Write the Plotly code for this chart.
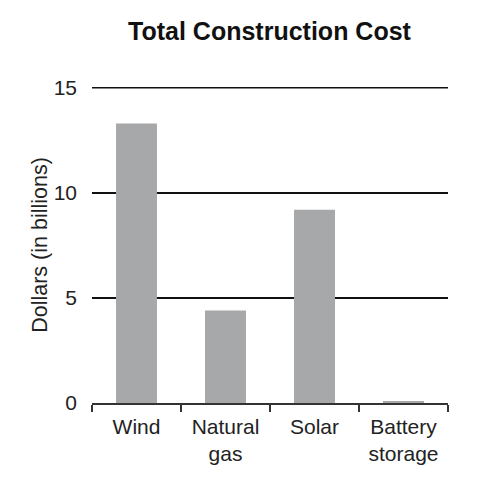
import plotly.graph_objects as go

# categories and values
sources = ["Wind", "Natural<br>gas", "Solar", "Battery<br>storage"]
cost_billions = [13.3, 4.4, 9.2, 0.1]
y_ticks = [0, 5, 10, 15]

fig = go.Figure()
fig.add_trace(go.Bar(
    x=sources,
    y=cost_billions,
    marker=dict(color="#a7a8aa", line=dict(width=0)),
    hoverinfo="x+y",
))

fig.update_layout(
    width=500,
    height=484,
    margin=dict(l=84, r=60, t=79, b=89),
    paper_bgcolor="white",
    plot_bgcolor="white",
    font=dict(family="Liberation Sans, Arial, Helvetica, sans-serif", size=21, color="#222222"),
    title=dict(
        text="<b>Total Construction Cost</b>",
        font=dict(size=25, color="#111111"),
        x=0.523,
        xanchor="center",
        y=0.952,
        yanchor="middle",
    ),
    bargap=0.54,
    showlegend=False,
)

# top gridline sits on the plot edge, plotly drops it, so draw it as a shape
fig.add_hline(y=y_ticks[-1], line=dict(color="#111111", width=1.5), layer="below")

fig.update_xaxes(
    showline=True,
    linecolor="#333333",
    linewidth=1.5,
    ticks="outside",
    tickson="boundaries",
    ticklen=7,
    tickwidth=1.5,
    tickcolor="#333333",
    showgrid=False,
    ticklabelstandoff=4,
    tickfont=dict(size=21),
)

fig.update_yaxes(
    range=[0, 15.04],
    tickvals=y_ticks,
    showgrid=True,
    gridcolor="#111111",
    gridwidth=1.5,
    zeroline=False,
    showline=False,
    ticks="",
    ticklabelstandoff=14,
    tickfont=dict(size=21),
    title=dict(text="Dollars (in billions)", font=dict(size=21.5), standoff=0),
)

fig.write_html("out.html")
